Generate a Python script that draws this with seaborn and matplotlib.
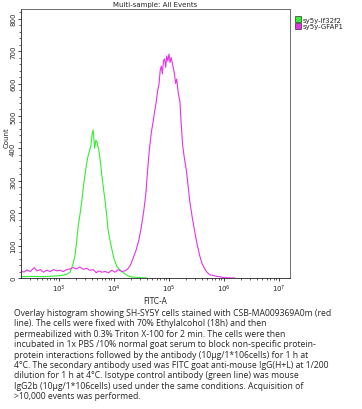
import numpy as np
import pandas as pd
import matplotlib
matplotlib.use('Agg')
import matplotlib.pyplot as plt
import seaborn as sns
from matplotlib.patches import Patch

# Isotype control (green), log10 of FITC-A and counts
iso_log = [2.31, 2.5, 2.7, 2.9, 3.05, 3.15, 3.2, 3.25, 3.29, 3.32, 3.35, 3.39,
           3.42, 3.45, 3.47, 3.5, 3.53, 3.56, 3.58, 3.6, 3.62, 3.64, 3.65, 3.67,
           3.69, 3.71, 3.73, 3.76, 3.78, 3.81, 3.84, 3.87, 3.89, 3.93, 3.96, 4.0,
           4.05, 4.1, 4.16, 4.22, 4.28, 4.33, 4.5, 4.6]
iso_cnt = [4, 5, 4, 6, 8, 12, 18, 40, 68, 110, 160, 205,
           244, 290, 315, 350, 377, 395, 407, 440, 457, 420, 400, 425,
           420, 405, 389, 350, 315, 275, 235, 190, 151, 115, 90, 60,
           37, 26, 18, 10, 5, 3, 1, 0]

# GFAP stained sample (magenta)
gfap_log = [2.31, 2.36, 2.42, 2.48, 2.55, 2.6, 2.66, 2.72, 2.78, 2.84, 2.9, 2.96,
            3.02, 3.08, 3.14, 3.2, 3.26, 3.32, 3.38, 3.44, 3.5, 3.56, 3.62, 3.68,
            3.72, 3.78, 3.84, 3.9, 3.96, 4.02, 4.08, 4.14, 4.2, 4.25, 4.3, 4.35,
            4.4, 4.45, 4.5, 4.54, 4.58, 4.61, 4.64, 4.68, 4.71, 4.74, 4.77, 4.79,
            4.82, 4.84, 4.86, 4.88, 4.9, 4.92, 4.94, 4.96, 4.98, 5.0, 5.02, 5.04,
            5.07, 5.1, 5.12, 5.14, 5.17, 5.2, 5.22, 5.25, 5.28, 5.32, 5.35, 5.38,
            5.42, 5.47, 5.51, 5.56, 5.6, 5.65, 5.69, 5.74, 5.8, 5.87, 5.92, 6.0,
            6.2]
gfap_cnt = [22, 18, 25, 20, 32, 22, 26, 18, 24, 20, 26, 22,
            24, 20, 26, 28, 32, 28, 34, 27, 30, 24, 26, 16,
            22, 18, 20, 16, 24, 18, 26, 20, 22, 28, 40, 62,
            85, 115, 160, 205, 260, 330, 390, 450, 480, 515, 545, 574,
            600, 640, 654, 630, 670, 676, 650, 685, 670, 691, 665, 680,
            655, 630, 600, 614, 570, 543, 480, 407, 370, 327, 280, 235,
            190, 142, 105, 68, 45, 28, 18, 10, 8, 5, 4, 1,
            0]

samples = ['sy5y-if32f2', 'sy5y-GFAP1']
colors = ['#33ee33', '#e633e6']

title = 'Multi-sample: All Events'
caption = ('Overlay histogram showing SH-SY5Y cells stained with CSB-MA009369A0m (red\n'
           'line). The cells were fixed with 70% Ethylalcohol (18h) and then\n'
           'permeabilized with 0.3% Triton X-100 for 2 min. The cells were then\n'
           'incubated in 1x PBS /10% normal goat serum to block non-specific protein-\n'
           'protein interactions followed by the antibody (10\u00b5g/1*106cells) for 1 h at\n'
           '4\u00b0C. The secondary antibody used was FITC goat anti-mouse IgG(H+L) at 1/200\n'
           'dilution for 1 h at 4\u00b0C. Isotype control antibody (green line) was mouse\n'
           'IgG2b (10\u00b5g/1*106cells) used under the same conditions. Acquisition of\n'
           '>10,000 events was performed.')

df = pd.concat([
    pd.DataFrame({'fitc': 10 ** np.array(iso_log), 'count': iso_cnt, 'sample': samples[0]}),
    pd.DataFrame({'fitc': 10 ** np.array(gfap_log), 'count': gfap_cnt, 'sample': samples[1]}),
])

sns.set_style('ticks')
plt.rcParams['font.family'] = ['DejaVu Sans']

fig = plt.figure(figsize=(3.62, 4.10), dpi=100)
ax = fig.add_axes([21 / 362, 131 / 410, 269 / 362, 269 / 410])

sns.lineplot(data=df, x='fitc', y='count', hue='sample', palette=dict(zip(samples, colors)),
             ax=ax, legend=False, linewidth=0.8, sort=True)

ax.set_xscale('log')
ax.set_xlim(10 ** 2.31, 10 ** 7.2)
ax.set_ylim(0, 830)
ax.set_yticks(range(0, 900, 100))
ax.set_yticks(range(0, 830, 20), minor=True)
ax.set_xticks([1e3, 1e4, 1e5, 1e6, 1e7])
ax.tick_params(axis='both', which='major', labelsize=5, length=2.5, width=0.6, pad=1)
ax.tick_params(axis='both', which='minor', length=1.5, width=0.5)
for lab in ax.get_yticklabels():
    lab.set_rotation(90)
    lab.set_va('center')
ax.set_xlabel('FITC-A', fontsize=5.5, labelpad=1)
ax.set_ylabel('Count', fontsize=5)
ax.yaxis.set_label_coords(-11.5 / 269, 141 / 269)
for sp in ax.spines.values():
    sp.set_linewidth(0.6)
    sp.set_color('#555555')
ax.spines['left'].set_color('#222222')
ax.spines['bottom'].set_color('#222222')

fig.text(155 / 362, 1 - 5 / 410, title, fontsize=5, ha='center', va='center')

handles = [Patch(facecolor=c, edgecolor='#333333', linewidth=0.5) for c in colors]
fig.legend(handles, samples, loc='upper left', bbox_to_anchor=(292 / 362, 1 - 14 / 410),
           frameon=False, fontsize=5, handlelength=0.8, handleheight=0.8,
           handletextpad=0.3, labelspacing=0.1, borderpad=0)

fig.text(14 / 362, 1 - 309 / 410, caption, fontsize=6.2, ha='left', va='top',
         linespacing=1.2, family=['Open Sans', 'DejaVu Sans'])

fig.savefig('out.png', dpi=100)
